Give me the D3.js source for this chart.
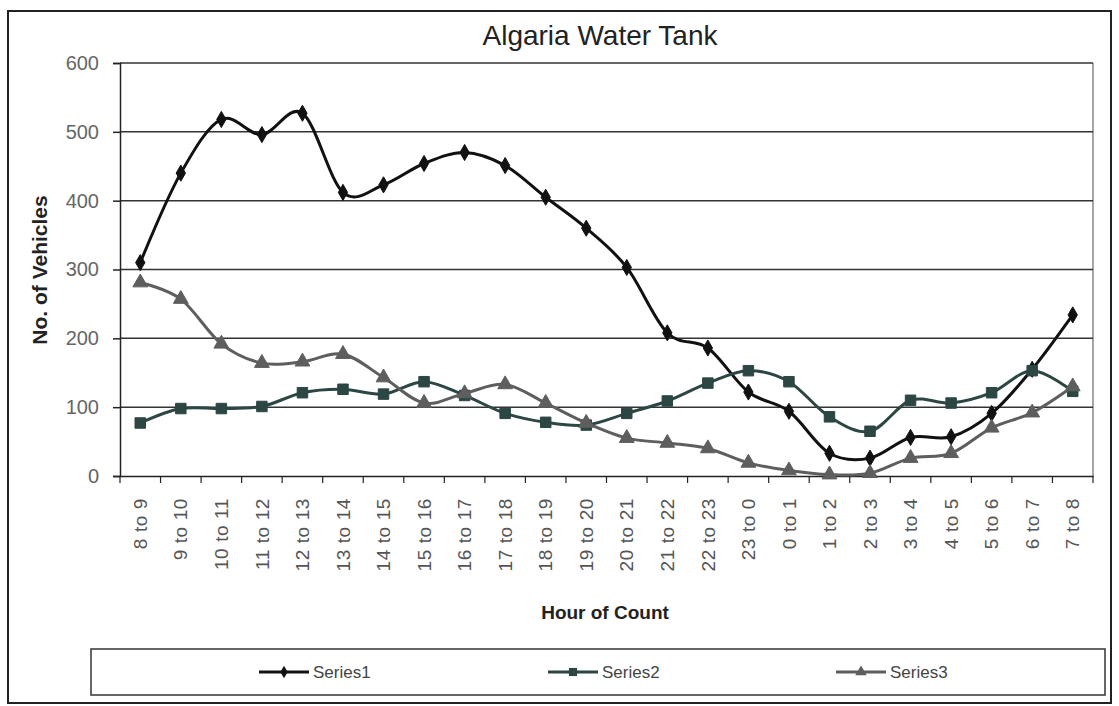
<!DOCTYPE html>
<html>
<head>
<meta charset="utf-8">
<title>Algaria Water Tank</title>
<script src="https://cdn.jsdelivr.net/npm/d3@7"></script>
<style>
    html, body { margin: 0; padding: 0; background: #fff; }
    svg { display: block; font-family: "Liberation Sans", Arial, sans-serif; }
</style>
</head>
<body>
<div id="chart"></div>
<script>
// Data
const categories = [
    '8 to 9', '9 to 10', '10 to 11', '11 to 12', '12 to 13', '13 to 14',
    '14 to 15', '15 to 16', '16 to 17', '17 to 18', '18 to 19', '19 to 20',
    '20 to 21', '21 to 22', '22 to 23', '23 to 0', '0 to 1', '1 to 2',
    '2 to 3', '3 to 4', '4 to 5', '5 to 6', '6 to 7', '7 to 8'
];
const series1 = [310, 440, 518, 496, 527, 412, 423, 454, 470, 451, 405, 360,
    303, 208, 186, 122, 94, 33, 26, 56, 57, 91, 155, 234];
const series2 = [77, 98, 98, 101, 121, 126, 119, 137, 117, 91, 78, 74,
    91, 109, 135, 153, 137, 86, 65, 110, 106, 121, 153, 123];
const series3 = [281, 257, 192, 164, 166, 177, 143, 106, 120, 133, 106, 77,
    55, 48, 40, 19, 8, 2, 4, 26, 33, 70, 92, 130];
const seriesNames = ['Series1', 'Series2', 'Series3'];
const yTicks = [0, 100, 200, 300, 400, 500, 600];

const width = 1119;
const height = 706;
const plot = { left: 120, right: 1093, top: 63, bottom: 476 };

const styles = [
    { color: '#111111', marker: d3.symbolDiamond, size: 75 },
    { color: '#2c4644', marker: d3.symbolSquare, size: 110 },
    { color: '#5e5e5e', marker: d3.symbolTriangle, size: 95 }
];

const svg = d3.select('#chart')
    .append('svg')
    .attr('width', width)
    .attr('height', height);

// Outer chart border
svg.append('rect')
    .attr('x', 8)
    .attr('y', 11)
    .attr('width', 1103)
    .attr('height', 692)
    .attr('fill', '#fff')
    .attr('stroke', '#222')
    .attr('stroke-width', 2);

// Scales
const x = d3.scaleBand()
    .domain(categories)
    .range([plot.left, plot.right]);
const cx = d => x(d) + x.bandwidth() / 2;

const y = d3.scaleLinear()
    .domain([0, 600])
    .range([plot.bottom, plot.top]);

// Plot area border (right side)
svg.append('line')
    .attr('x1', plot.right).attr('x2', plot.right)
    .attr('y1', plot.top).attr('y2', plot.bottom)
    .attr('stroke', '#888')
    .attr('stroke-width', 1.5);

// Gridlines
svg.append('g')
    .selectAll('line')
    .data(yTicks.filter(t => t > 0))
    .join('line')
    .attr('x1', plot.left)
    .attr('x2', plot.right)
    .attr('y1', d => y(d))
    .attr('y2', d => y(d))
    .attr('stroke', '#333')
    .attr('stroke-width', 1.5);

// Y axis
const yAxis = svg.append('g')
    .attr('transform', `translate(${plot.left},0)`)
    .call(d3.axisLeft(y).tickValues(yTicks).tickSize(7).tickPadding(14));
yAxis.select('.domain').attr('stroke', '#222').attr('stroke-width', 1.5);
yAxis.selectAll('.tick line').attr('stroke', '#222').attr('stroke-width', 1.5);
yAxis.selectAll('.tick text')
    .attr('font-size', '20px')
    .attr('fill', '#666')
    .attr('font-family', '"Liberation Sans", Arial, sans-serif');

// X axis: labels at band centres, ticks at band edges
const xAxis = svg.append('g')
    .attr('transform', `translate(0,${plot.bottom})`)
    .call(d3.axisBottom(x).tickSize(0).tickSizeOuter(0));
xAxis.select('.domain').attr('stroke', '#222').attr('stroke-width', 1.5);
xAxis.selectAll('.tick text')
    .attr('font-size', '19px')
    .attr('fill', '#555')
    .attr('letter-spacing', '0.6px')
    .attr('font-family', '"Liberation Sans", Arial, sans-serif')
    .attr('text-anchor', 'end')
    .attr('transform', 'rotate(-90)')
    .attr('x', -22)
    .attr('y', 0)
    .attr('dy', '0.35em');

svg.append('g')
    .selectAll('line')
    .data(categories.concat([null]))
    .join('line')
    .attr('x1', d => d === null ? plot.right : x(d))
    .attr('x2', d => d === null ? plot.right : x(d))
    .attr('y1', plot.bottom)
    .attr('y2', plot.bottom + 7)
    .attr('stroke', '#222')
    .attr('stroke-width', 1.2);

// Title and axis titles
svg.append('text')
    .attr('x', 600)
    .attr('y', 45)
    .attr('text-anchor', 'middle')
    .attr('font-size', '28px')
    .attr('fill', '#222')
    .text('Algaria Water Tank');

svg.append('text')
    .attr('transform', 'translate(47,270) rotate(-90)')
    .attr('text-anchor', 'middle')
    .attr('font-size', '21px')
    .attr('font-weight', 'bold')
    .attr('fill', '#222')
    .text('No. of Vehicles');

svg.append('text')
    .attr('x', 605)
    .attr('y', 619)
    .attr('text-anchor', 'middle')
    .attr('font-size', '19px')
    .attr('font-weight', 'bold')
    .attr('fill', '#222')
    .text('Hour of Count');

// Series lines (Excel-like smoothing) and markers
const allSeries = [series1, series2, series3];
const line = d3.line()
    .x((d, i) => cx(categories[i]))
    .y(d => y(d))
    .curve(d3.curveCatmullRom.alpha(0));

allSeries.forEach((values, s) => {
    const st = styles[s];
    const g = svg.append('g').attr('class', 'series');

    g.append('path')
        .datum(values)
        .attr('d', line)
        .attr('fill', 'none')
        .attr('stroke', st.color)
        .attr('stroke-width', 3);

    g.selectAll('path.marker')
        .data(values)
        .join('path')
        .attr('class', 'marker')
        .attr('d', d3.symbol().type(st.marker).size(st.size))
        .attr('transform', (d, i) => `translate(${cx(categories[i])},${y(d)})`)
        .attr('fill', st.color)
        .attr('stroke', st.color)
        .attr('stroke-width', 1);
});

// Legend
svg.append('rect')
    .attr('x', 91)
    .attr('y', 649)
    .attr('width', 1014)
    .attr('height', 46)
    .attr('fill', '#fff')
    .attr('stroke', '#333')
    .attr('stroke-width', 1.5);

const legendX = [259, 548, 836];
const legend = svg.append('g')
    .selectAll('g')
    .data(seriesNames)
    .join('g')
    .attr('transform', (d, i) => `translate(${legendX[i]},672)`);

legend.append('line')
    .attr('x1', 0)
    .attr('x2', 50)
    .attr('stroke', (d, i) => styles[i].color)
    .attr('stroke-width', 3);

legend.append('path')
    .attr('d', (d, i) => d3.symbol().type(styles[i].marker).size(styles[i].size * 0.6)())
    .attr('transform', 'translate(25,0)')
    .attr('fill', (d, i) => styles[i].color);

legend.append('text')
    .attr('x', 54)
    .attr('dy', '0.35em')
    .attr('font-size', '17px')
    .attr('fill', '#444')
    .text(d => d);
</script>
</body>
</html>
